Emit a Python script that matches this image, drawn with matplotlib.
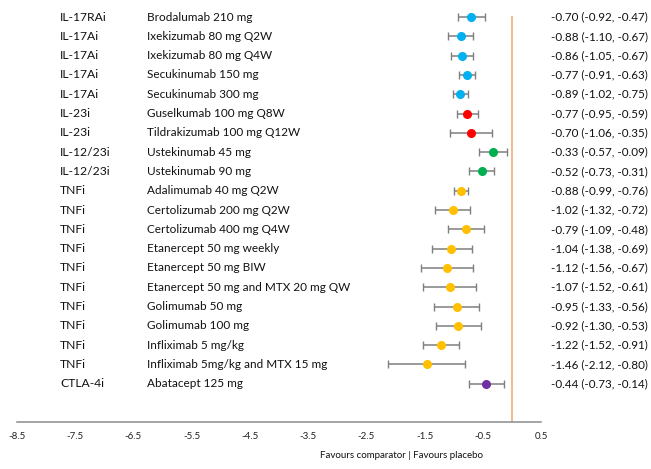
import matplotlib.pyplot as plt

classes = ['IL-17RAi', 'IL-17Ai', 'IL-17Ai', 'IL-17Ai', 'IL-17Ai', 'IL-23i', 'IL-23i',
           'IL-12/23i', 'IL-12/23i', 'TNFi', 'TNFi', 'TNFi', 'TNFi', 'TNFi', 'TNFi',
           'TNFi', 'TNFi', 'TNFi', 'TNFi', 'CTLA-4i']
drugs = ['Brodalumab 210 mg', 'Ixekizumab 80 mg Q2W', 'Ixekizumab 80 mg Q4W',
         'Secukinumab 150 mg', 'Secukinumab 300 mg', 'Guselkumab 100 mg Q8W',
         'Tildrakizumab 100 mg Q12W', 'Ustekinumab 45 mg', 'Ustekinumab 90 mg',
         'Adalimumab 40 mg Q2W', 'Certolizumab 200 mg Q2W', 'Certolizumab 400 mg Q4W',
         'Etanercept 50 mg weekly', 'Etanercept 50 mg BIW',
         'Etanercept 50 mg and MTX 20 mg QW', 'Golimumab 50 mg', 'Golimumab 100 mg',
         'Infliximab 5 mg/kg', 'Infliximab 5mg/kg and MTX 15 mg', 'Abatacept 125 mg']
est = [-0.70, -0.88, -0.86, -0.77, -0.89, -0.77, -0.70, -0.33, -0.52, -0.88,
       -1.02, -0.79, -1.04, -1.12, -1.07, -0.95, -0.92, -1.22, -1.46, -0.44]
lower = [-0.92, -1.10, -1.05, -0.91, -1.02, -0.95, -1.06, -0.57, -0.73, -0.99,
         -1.32, -1.09, -1.38, -1.56, -1.52, -1.33, -1.30, -1.52, -2.12, -0.73]
upper = [-0.47, -0.67, -0.67, -0.63, -0.75, -0.59, -0.35, -0.09, -0.31, -0.76,
         -0.72, -0.48, -0.69, -0.67, -0.61, -0.56, -0.53, -0.91, -0.80, -0.14]
ticks = [-8.5, -7.5, -6.5, -5.5, -4.5, -3.5, -2.5, -1.5, -0.5, 0.5]

class_colors = {'IL-17RAi': '#00B0F0', 'IL-17Ai': '#00B0F0', 'IL-23i': '#FF0000',
                'IL-12/23i': '#00B050', 'TNFi': '#FFC000', 'CTLA-4i': '#7030A0'}

plt.rcParams['font.family'] = ['Lato', 'DejaVu Sans']

fig = plt.figure(figsize=(6.51, 4.69), dpi=100)
ax = fig.add_axes([17 / 651, 1 - 422 / 469, 524 / 651, 414 / 469])

rows = list(range(len(drugs)))
for i in rows:
    ax.errorbar(est[i], i, xerr=[[est[i] - lower[i]], [upper[i] - est[i]]],
                fmt='o', color=class_colors[classes[i]], ecolor='#7f7f7f',
                elinewidth=1.1, capsize=3, capthick=1, markersize=5.5, zorder=3)
    ax.text(-7.76, i, classes[i], va='center', ha='left', fontsize=8.7, color='#111111')
    ax.text(-6.27, i, drugs[i], va='center', ha='left', fontsize=8.5, color='#111111')
    ax.text(0.67, i, '%.2f (%.2f, %.2f)' % (est[i], lower[i], upper[i]),
            va='center', ha='left', fontsize=8.4, color='#111111', clip_on=False)

ax.vlines(0, -0.05, 20.98, color='#F4B183', linewidth=1.3, zorder=2)

ax.set_xlim(-8.5, 0.5)
ax.set_ylim(20.98, -0.47)
ax.set_xticks(ticks)
ax.set_xticklabels(['%.1f' % t for t in ticks], fontsize=7)
ax.tick_params(axis='x', length=0, pad=7, colors='#222222')
ax.set_yticks([])
for s in ['top', 'left', 'right']:
    ax.spines[s].set_visible(False)
ax.spines['bottom'].set_color('#8c8c8c')
ax.spines['bottom'].set_linewidth(1.1)

fig.text(402 / 651, 1 - 455 / 469, 'Favours comparator | Favours placebo',
         ha='center', va='center', fontsize=7, color='#111111')

fig.savefig('out.png', dpi=100)
